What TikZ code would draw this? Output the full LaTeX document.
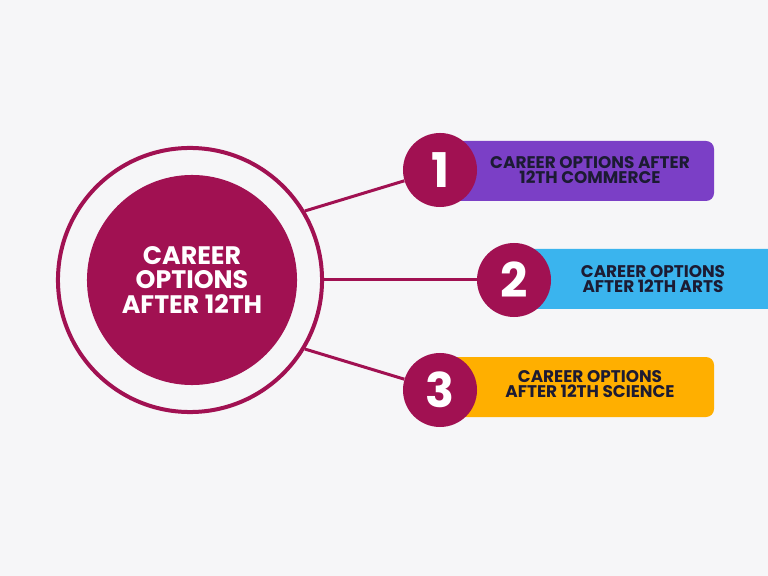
\documentclass[tikz,border=0pt]{standalone}
\usepackage{fontspec}
\setmainfont{Poppins}
\usepackage{tikz}

\definecolor{paper}{HTML}{F6F6F8}
\definecolor{berry}{HTML}{A11152}
\definecolor{grape}{HTML}{7B3FC6}
\definecolor{sky}{HTML}{3AB4EE}
\definecolor{amber}{HTML}{FFAF00}
\definecolor{ink}{HTML}{1C1B33}

\begin{document}
\begin{tikzpicture}[x=0.025cm, y=-0.025cm,
	hub/.style={circle, fill=berry, inner sep=0pt, minimum size=5.25cm},
	ring/.style={circle, draw=berry, line width=0.1cm, inner sep=0pt, minimum size=6.6cm},
	num/.style={circle, fill=berry, inner sep=0pt, minimum size=1.85cm, text=white,
		font=\fontsize{34}{34}\selectfont\bfseries},
	label/.style={align=center, text=ink, font=\fontsize{12}{11}\selectfont\bfseries},
	link/.style={draw=berry, line width=0.075cm}]
						\fill[paper] (0,0) rectangle (768,576);
						\clip (0,0) rectangle (768,576);

						% coloured boxes
						\fill[grape, rounded corners=0.2cm] (445,141) rectangle (714,201);
						\fill[sky, rounded corners=0.2cm] (520,249) rectangle (800,309);
						\fill[amber, rounded corners=0.2cm] (445,357) rectangle (714,417);

						% centre
						\node[ring] (ring) at (190,280) {};
						\node[hub, text=white, align=center,
							font=\fontsize{18}{17.6}\selectfont\bfseries] (hub) at (192,280)
							{CAREER\\OPTIONS\\AFTER 12TH};

						% numbers
						\node[num] (one) at (440,170) {1};
						\node[num] (two) at (514,280) {2};
						\node[num] (three) at (440,390) {3};

						\draw[link] (ring.31) -- (one);
						\draw[link] (ring.0) -- (two);
						\draw[link] (ring.-31) -- (three);

						\node[label] (commerce) at (590,170) {CAREER OPTIONS AFTER\\12TH COMMERCE};
						\node[label] (arts) at (653,279) {CAREER OPTIONS\\AFTER 12TH ARTS};
						\node[label] (science) at (590,384) {CAREER OPTIONS\\AFTER 12TH SCIENCE};
					\end{tikzpicture}
\end{document}
